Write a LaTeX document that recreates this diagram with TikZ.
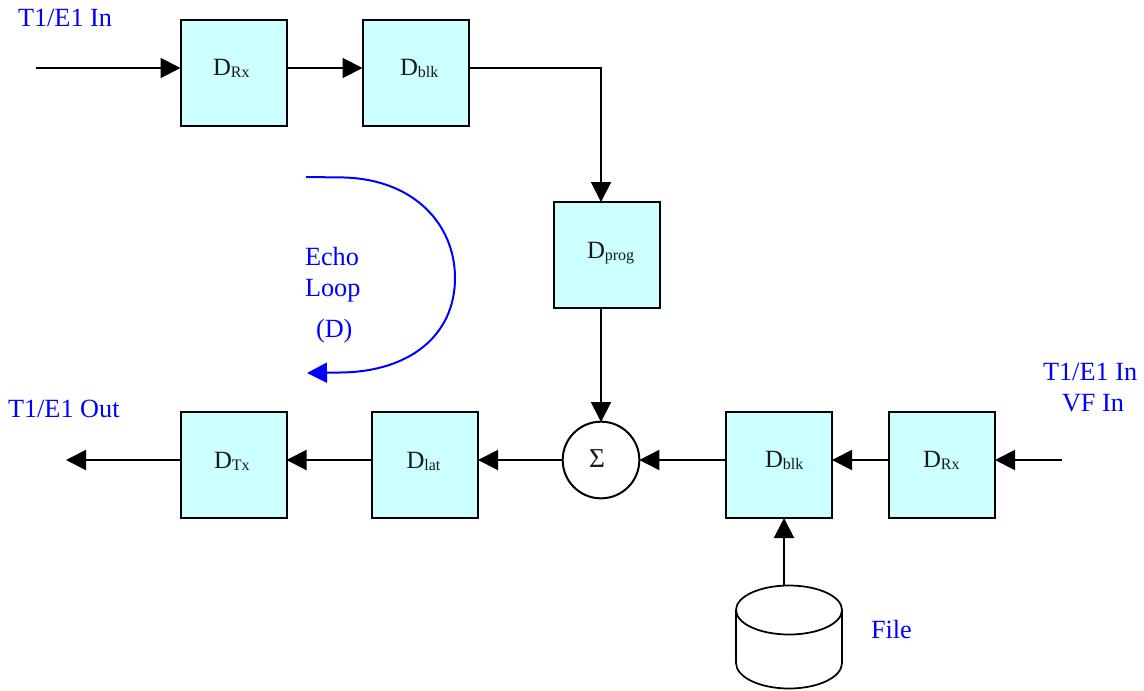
\documentclass[tikz,border=0pt]{standalone}
\usepackage{fontspec}
\setmainfont{Liberation Serif}
\usetikzlibrary{arrows.meta}
\newcommand{\blocklabel}[1]{{\fontsize{18.6pt}{22pt}\selectfont D}\raisebox{-2.2pt}{\fontsize{12pt}{14pt}\selectfont #1}}
\definecolor{boxcyan}{HTML}{CCFFFF}
\tikzset{
  x=0.75pt,y=-0.75pt,
  block/.style={draw=black,fill=boxcyan,line width=1.5pt,minimum size=79.5pt,inner sep=0pt,outer sep=0pt},
  blocktext/.style={anchor=base west,inner sep=0pt,outer sep=0pt,text=black!90},
  note/.style={anchor=base west,inner sep=0pt,outer sep=0pt,text=blue,font=\fontsize{19.7pt}{23pt}\selectfont},
  flow/.style={line width=1.5pt,-{Triangle[length=15pt,width=15pt]}},
  loopflow/.style={draw=blue,line width=1.5pt,-{Triangle[length=15pt,width=15pt]}},
  drum/.style={draw=black,fill=white,line width=1.3pt},
}
\begin{document}
\begin{tikzpicture}
\useasboundingbox (0,0) rectangle (1144,690);
% blocks
\node[block] (rx1) at (233.5,73) {};
\node[block] (blk1) at (415.5,73) {};
\node[block] (prog) at (607,254.5) {};
\node[block] (tx) at (233.5,465) {};
\node[block] (lat) at (425,465) {};
\node[block] (blk2) at (779,465) {};
\node[block] (rx2) at (942,465) {};
\node[circle,draw=black,line width=1.5pt,minimum size=57.5pt,inner sep=0pt,outer sep=0pt] (sum) at (601,460) {};
% file drum
\node[inner sep=0pt,outer sep=0pt,minimum width=79.5pt,minimum height=78pt] (file) at (789,637) {};
\draw[drum] (736,610) -- (736,663) arc[start angle=180,end angle=0,x radius=53,y radius=25.5] -- (842,610);
\draw[drum] (789,610) ellipse[x radius=53,y radius=24.5];
% block labels
\node[blocktext] (rx1t) at (213,75) {\blocklabel{Rx}};
\node[blocktext] (blk1t) at (400,75) {\blocklabel{blk}};
\node[blocktext] (progt) at (587,258) {\blocklabel{prog}};
\node[blocktext] (txt) at (214,468) {\blocklabel{Tx}};
\node[blocktext] (latt) at (406.5,468) {\blocklabel{lat}};
\node[blocktext] (blk2t) at (765,467) {\blocklabel{blk}};
\node[blocktext] (rx2t) at (923,467) {\blocklabel{Rx}};
\node[blocktext] (sumt) at (589,467) {\fontsize{20.5pt}{24pt}\selectfont Σ};
% blue texts
\node[note] (in1) at (18,26) {T1/E1 In};
\node[note] (out) at (8,417) {T1/E1 Out};
\node[note] (in2) at (1043,380) {T1/E1 In};
\node[note] (vf) at (1062,411) {VF In};
\node[note] (filet) at (871,638) {File};
\node[note] (echo) at (305,265) {Echo};
\node[note] (loop) at (305,296) {Loop};
\node[note] (dt) at (316,337) {(D)};
% free ends
\coordinate (inA) at (36,68);
\coordinate (inB) at (1062,460);
\coordinate (outA) at (66,460);
\coordinate (fileTop) at (784,585.5);
\coordinate (turn) at (601,68);
\coordinate (progIn) at (601,202);
\coordinate (progOut) at (601,307);
\coordinate (sumIn) at (601,422);
\coordinate (loopA) at (306,177);
\coordinate (loopB) at (307,373);
% connectors
\draw[flow] (inA) -- (inA -| rx1.west);
\draw[flow] (inA -| rx1.east) -- (inA -| blk1.west);
\draw[flow] (inA -| blk1.east) -- (turn) -- (progIn);
\draw[flow] (progOut) -- (sumIn);
\draw[flow] (inB) -- (inB -| rx2.east);
\draw[flow] (inB -| rx2.west) -- (inB -| blk2.east);
\draw[flow] (inB -| blk2.west) -- (sum.east);
\draw[flow] (sum.west) -- (sum.west -| lat.east);
\draw[flow] (sum.west -| lat.west) -- (sum.west -| tx.east);
\draw[flow] (sum.west -| tx.west) -- (outA);
\draw[flow] (fileTop) -- (fileTop |- blk2.south);
\draw[loopflow] (loopA) -- (345,177.5) .. controls (415,180) and (455,225) .. (455,278) .. controls (455,335) and (410,372) .. (340,372.5) -- (loopB);
\end{tikzpicture}
\end{document}
